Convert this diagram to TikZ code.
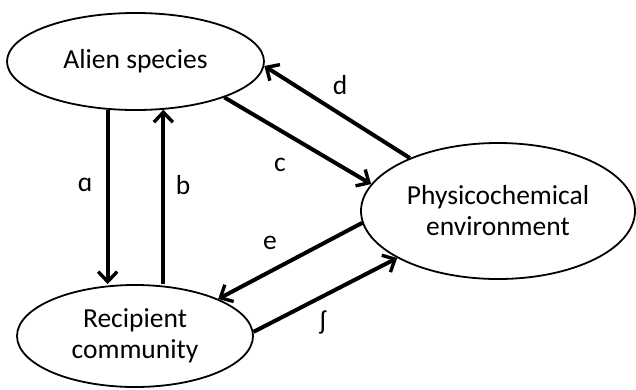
\documentclass[tikz,border=0pt]{standalone}
\usepackage{fontspec}
\setmainfont{Carlito}
\usepackage{tikz}
\usetikzlibrary{shapes,arrows.meta,positioning}

\begin{document}
\begin{tikzpicture}[x=1pt, y=-1pt,
  box/.style = {ellipse, draw, line width=1.8pt, inner sep=0pt, align=center},
  link/.style = {line width=4pt, -{Straight Barb[length=10pt, width=19pt, line width=3.4pt]}},
  every node/.style = {font=\fontsize{27.5}{31}\selectfont}]
\useasboundingbox (0,0) rectangle (636,389);
% the three boxes
\node [box, minimum width=257, minimum height=97] (alien) at (135.5,61.5) {Alien species};
\node [box, minimum width=236, minimum height=102] (recip) at (135,336) {Recipient\\community};
\node [box, minimum width=274, minimum height=136] (phys) at (498,211) {Physicochemical\\environment};
% arrows
\draw [link] (alien.-120) -- (alien.-120 |- recip.north);
\draw [link] (alien.-60 |- recip.north) -- (alien.-60);
\draw [link] (alien.-22.4) -- (phys.168.7);
\draw [link] (phys.149.5) -- (alien.-2.4);
\draw [link] (phys.185.8) -- (recip.24.2);
\draw [link] (recip.2) -- (phys.205.2);
% labels
\node (la) at (85,185) {ɑ};
\node (lb) at (183,185) {b};
\node (lc) at (280,165) {c};
\node (ld) at (340,85) {d};
\node (le) at (270,243) {e};
\node (lf) at (323,322) {ʃ};
\end{tikzpicture}
\end{document}
